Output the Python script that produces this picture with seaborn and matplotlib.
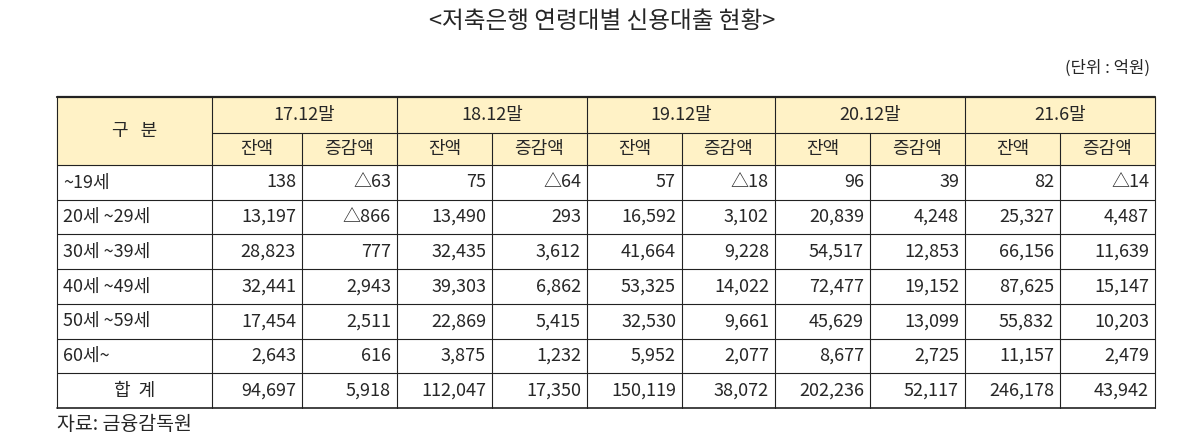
import matplotlib
matplotlib.use("Agg")
import matplotlib.pyplot as plt
import seaborn as sns

sns.set_style("white")
plt.rcParams['font.family'] = ['Noto Sans CJK KR', 'DejaVu Sans']

title = "<저축은행 연령대별 신용대출 현황>"
unit = "(단위 : 억원)"
source = "자료: 금융감독원"
periods = ["17.12말", "18.12말", "19.12말", "20.12말", "21.6말"]
subheads = ["잔액", "증감액"]
rows = ["~19세", "20세 ~29세", "30세 ~39세", "40세 ~49세", "50세 ~59세", "60세~", "합  계"]
values = [
    ["138", "△63", "75", "△64", "57", "△18", "96", "39", "82", "△14"],
    ["13,197", "△866", "13,490", "293", "16,592", "3,102", "20,839", "4,248", "25,327", "4,487"],
    ["28,823", "777", "32,435", "3,612", "41,664", "9,228", "54,517", "12,853", "66,156", "11,639"],
    ["32,441", "2,943", "39,303", "6,862", "53,325", "14,022", "72,477", "19,152", "87,625", "15,147"],
    ["17,454", "2,511", "22,869", "5,415", "32,530", "9,661", "45,629", "13,099", "55,832", "10,203"],
    ["2,643", "616", "3,875", "1,232", "5,952", "2,077", "8,677", "2,725", "11,157", "2,479"],
    ["94,697", "5,918", "112,047", "17,350", "150,119", "38,072", "202,236", "52,117", "246,178", "43,942"],
]

fig = plt.figure(figsize=(12.04, 4.41), dpi=100)
ax = fig.add_axes([0, 0, 1, 1])
ax.set_xlim(0, 1204)
ax.set_ylim(441, 0)
ax.axis("off")

x0, x1 = 57, 1155
xc = [57, 212, 302, 397, 492, 587, 682, 775, 870, 965, 1060, 1155]
y_h1, y_h2, y_d = 97, 133, 165
rh = (408 - 165) / 7
yb = [y_d + i * rh for i in range(8)]
hdr = "#FFF2C6"

ax.add_patch(plt.Rectangle((x0, y_h1), x1 - x0, y_d - y_h1, color=hdr, zorder=0))
ax.text(602, 22, title, ha="center", va="center", fontsize=17)
ax.text(1150, 68, unit, ha="right", va="center", fontsize=12)
ax.text(57, 424, source, ha="left", va="center", fontsize=14)

lc = "#222222"
ax.plot([x0, x1], [y_h1, y_h1], color=lc, lw=1.6)
ax.plot([xc[1], x1], [y_h2, y_h2], color=lc, lw=0.8)
for y in yb[:-1]:
    ax.plot([x0, x1], [y, y], color=lc, lw=0.8)
ax.plot([x0, x1], [yb[-1], yb[-1]], color=lc, lw=1.2)
for i, x in enumerate(xc):
    top = y_h1 if i % 2 == 1 or i == 0 or i == len(xc) - 1 else y_h2
    ax.plot([x, x], [top, yb[-1]], color=lc, lw=0.8)

ax.text((xc[0] + xc[1]) / 2, (y_h1 + y_d) / 2, "구   분", ha="center", va="center", fontsize=13)
for i, p in enumerate(periods):
    ax.text((xc[1 + 2 * i] + xc[3 + 2 * i]) / 2, (y_h1 + y_h2) / 2, p, ha="center", va="center", fontsize=13)
    for j, s in enumerate(subheads):
        k = 1 + 2 * i + j
        ax.text((xc[k] + xc[k + 1]) / 2, (y_h2 + y_d) / 2, s, ha="center", va="center", fontsize=13)

for r, (lab, vals) in enumerate(zip(rows, values)):
    yc = (yb[r] + yb[r + 1]) / 2
    if r == len(rows) - 1:
        ax.text((xc[0] + xc[1]) / 2, yc, lab, ha="center", va="center", fontsize=13)
    else:
        ax.text(xc[0] + 6, yc, lab, ha="left", va="center", fontsize=13)
    for k, v in enumerate(vals):
        ax.text(xc[k + 2] - 6, yc, v, ha="right", va="center", fontsize=13)

fig.savefig("out.png", dpi=100)
